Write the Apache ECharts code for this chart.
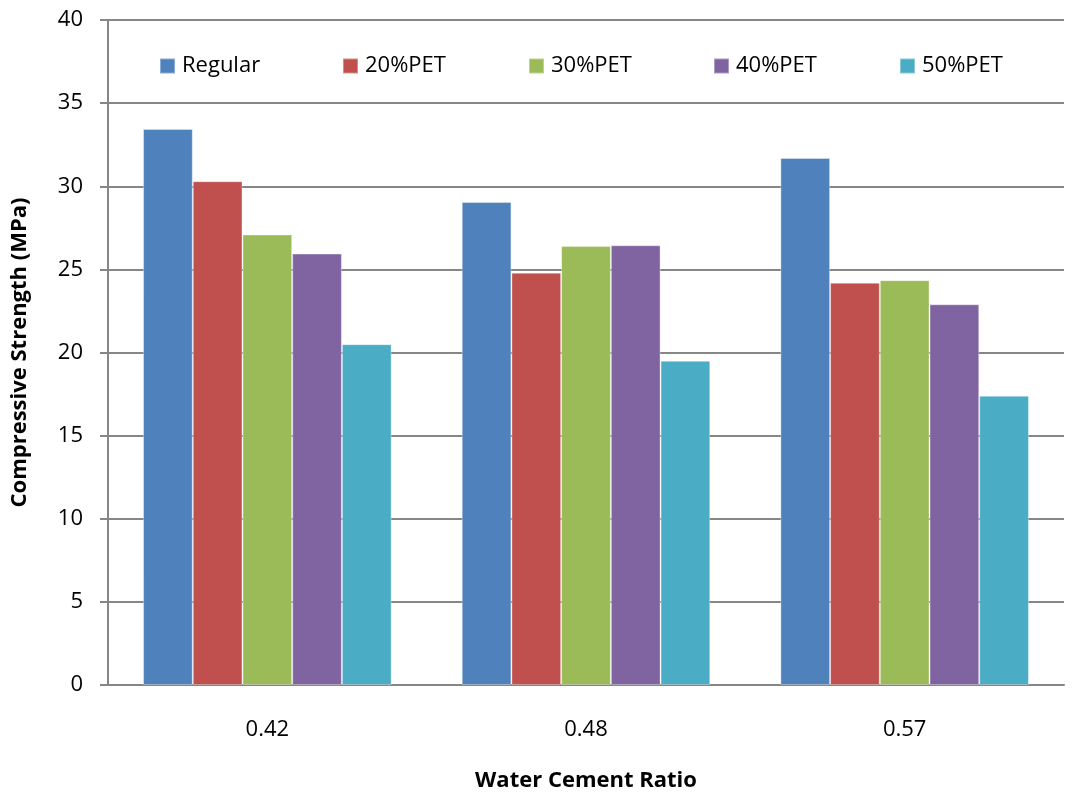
<!DOCTYPE html>
<html>
<head>
<meta charset="utf-8">
<script src="https://cdn.jsdelivr.net/npm/echarts@6/dist/echarts.min.js"></script>
<style>html,body{margin:0;padding:0;background:#fff}#c{width:1072px;height:795px}</style>
</head>
<body>
<div id="c"></div>
<script>
const categories = ['0.42', '0.48', '0.57'];
const seriesNames = ['Regular', '20%PET', '30%PET', '40%PET', '50%PET'];
const regular = [33.45, 29.05, 31.7];
const pet20 = [30.3, 24.8, 24.2];
const pet30 = [27.1, 26.4, 24.35];
const pet40 = [25.95, 26.45, 22.9];
const pet50 = [20.5, 19.5, 17.4];
const yTicks = [0, 5, 10, 15, 20, 25, 30, 35, 40];
const colors = ['#4F81BD', '#C0504D', '#9BBB59', '#8064A2', '#4BACC6'];
const legendLeft = [159, 342, 528, 713, 899];

const values = [regular, pet20, pet30, pet40, pet50];
const font = 'Open Sans, Noto Sans, sans-serif';
const chart = echarts.init(document.getElementById('c'));
chart.setOption({
  animation: false,
  color: colors,
  grid: { left: 108, right: 8, top: 20, bottom: 110, outerBoundsMode: 'none', containLabel: false },
  legend: seriesNames.map((n, i) => ({
    left: legendLeft[i], top: 55,
    icon: 'rect', itemWidth: 15, itemHeight: 15, padding: 0,
    textStyle: { fontFamily: font, fontSize: 22, color: '#000', padding: [0, 0, 0, 2] },
    data: [n]
  })),
  xAxis: {
    type: 'category', data: categories,
    name: 'Water Cement Ratio', nameLocation: 'middle', nameGap: 85,
    nameTextStyle: { fontFamily: font, fontSize: 22, fontWeight: 'bold', color: '#000' },
    axisLine: { lineStyle: { color: '#868686', width: 2 } },
    axisTick: { show: false },
    axisLabel: { fontFamily: font, fontSize: 22, color: '#000', margin: 34 }
  },
  yAxis: {
    type: 'value', min: yTicks[0], max: yTicks[yTicks.length - 1], interval: 5,
    name: 'Compressive Strength (MPa)', nameLocation: 'middle', nameGap: 77,
    nameTextStyle: { fontFamily: font, fontSize: 22, fontWeight: 'bold', color: '#000' },
    axisLine: { show: true, lineStyle: { color: '#868686', width: 2 } },
    axisTick: { show: true, length: 8, lineStyle: { color: '#868686', width: 2 } },
    axisLabel: { fontFamily: font, fontSize: 22, color: '#000', margin: 25 },
    splitLine: { lineStyle: { color: '#868686', width: 2 } }
  },
  series: seriesNames.map((n, i) => ({
    name: n, type: 'bar', data: values[i],
    barGap: '0%', barCategoryGap: '22%',
    itemStyle: { color: colors[i], borderColor: 'rgba(255,255,255,0.35)', borderWidth: 1 }
  }))
});
</script>
</body>
</html>
